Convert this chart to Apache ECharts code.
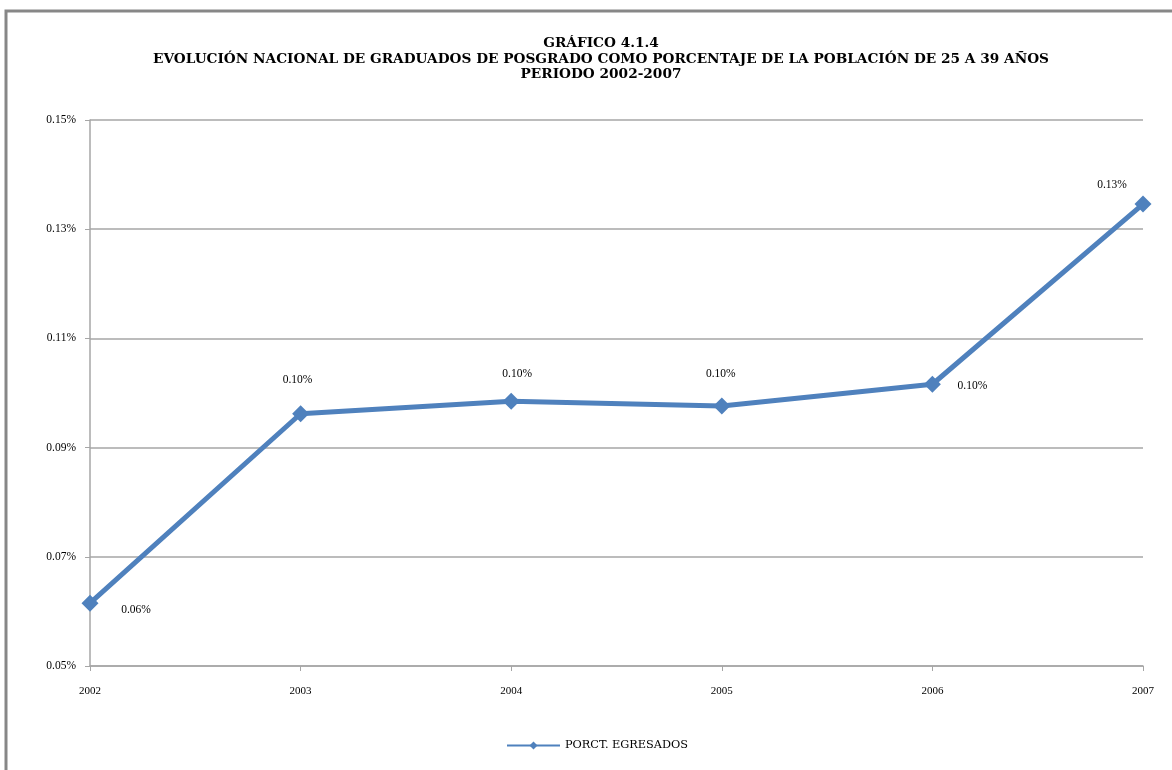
<!DOCTYPE html>
<html>
<head>
<meta charset="utf-8">
<script src="https://cdn.jsdelivr.net/npm/echarts@6/dist/echarts.min.js"></script>
<style>
  html, body { margin: 0; padding: 0; background: #fff; }
  #chart { width: 1172px; height: 770px; }
</style>
</head>
<body>
<div id="chart"></div>
<script>
// Data (values in percent)
var years = ['2002', '2003', '2004', '2005', '2006', '2007'];
var egresados = [0.0615, 0.0962, 0.0985, 0.0976, 0.1016, 0.1346];
var yTicks = [0.05, 0.07, 0.09, 0.11, 0.13, 0.15];
// label offsets relative to each point, to mimic the original placement
var labelOffsets = [[46, 7], [-3, -34], [6, -27], [-1, -32], [40, 2], [-31, -19]];

var serif = '"Liberation Serif", "DejaVu Serif", serif';
var wideSerif = '"DejaVu Serif", "Liberation Serif", serif';

var chart = echarts.init(document.getElementById('chart'));

var seriesData = egresados.map(function(v, i) {
  return {
    value: v,
    label: {offset: labelOffsets[i]}
  };
});

chart.setOption({
  animation: false,
  title: {
    text: 'GRÁFICO 4.1.4\nEVOLUCIÓN NACIONAL DE GRADUADOS DE POSGRADO COMO PORCENTAJE DE LA POBLACIÓN DE 25 A 39 AÑOS\nPERIODO 2002-2007',
    left: 596,
    textAlign: 'center',
    top: 31,
    textStyle: {
      fontFamily: wideSerif,
      fontWeight: 'bold',
      fontSize: 13.7,
      lineHeight: 15.5,
      color: '#000'
    }
  },
  graphic: [{
    type: 'rect',
    shape: {x: 6, y: 11, width: 1180, height: 780},
    style: {fill: 'none', stroke: '#878787', lineWidth: 3},
    silent: true
  }],
  legend: {
    bottom: 14,
    left: 501,
    itemWidth: 53,
    itemHeight: 10,
    itemGap: 6,
    textStyle: {fontFamily: wideSerif, fontSize: 11.3, color: '#000'},
    data: ['PORCT. EGRESADOS']
  },
  grid: {
    left: 90,
    right: 29,
    top: 120,
    bottom: 104
  },
  xAxis: {
    type: 'category',
    data: years,
    boundaryGap: false,
    axisLine: {lineStyle: {color: '#a6a6a6', width: 1.5}},
    axisTick: {show: true, length: 5, lineStyle: {color: '#a6a6a6'}},
    axisLabel: {margin: 20, fontFamily: serif, fontSize: 11, color: '#000'},
    splitLine: {show: false}
  },
  yAxis: {
    type: 'value',
    min: 0.05,
    max: 0.15,
    axisLine: {show: true, lineStyle: {color: '#a6a6a6', width: 1.5}},
    axisTick: {show: true, length: 5, customValues: yTicks, lineStyle: {color: '#a6a6a6'}},
    axisLabel: {
      customValues: yTicks,
      margin: 14,
      fontFamily: serif,
      fontSize: 11.5,
      color: '#000',
      formatter: function(v) { return v.toFixed(2) + '%'; }
    },
    splitLine: {show: true, lineStyle: {color: '#a6a6a6', width: 1.5}}
  },
  series: [{
    name: 'PORCT. EGRESADOS',
    type: 'line',
    data: seriesData,
    symbol: 'diamond',
    symbolSize: 17,
    lineStyle: {color: '#4f81bd', width: 5},
    itemStyle: {color: '#4f81bd'},
    label: {
      show: true,
      position: 'inside',
      fontFamily: serif,
      fontSize: 11.5,
      color: '#000',
      formatter: function(p) { return p.value.toFixed(2) + '%'; }
    }
  }]
});
</script>
</body>
</html>
